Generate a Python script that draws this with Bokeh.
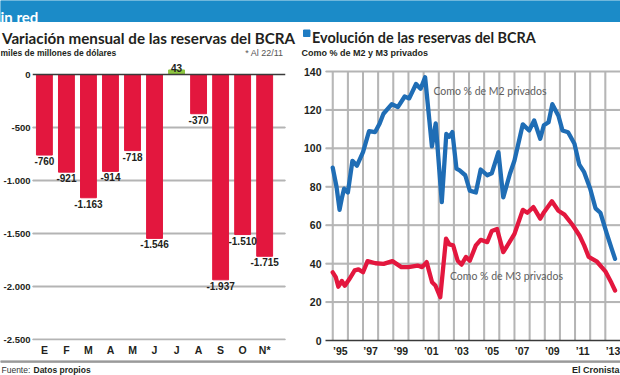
from bokeh.plotting import figure
from bokeh.layouts import column, row
from bokeh.models import Range1d, FixedTicker, ColumnDataSource, Span
from bokeh.core.properties import value
from bokeh.embed import file_html
from bokeh.resources import INLINE

# ---------------- data ----------------
months = ["E", "F", "M", "A", "M", "J", "J", "A", "S", "O", "N*"]
monthly_change = [-760, -921, -1163, -914, -718, -1546, 43, -370, -1937, -1510, -1715]
left_ticks = [0, -500, -1000, -1500, -2000, -2500]
left_tick_labels = ["0", "-500", "-1.000", "-1.500", "-2.000", "-2.500"]

m2_years = [1995.0, 1995.25, 1995.45, 1995.6, 1995.75, 1996.0, 1996.3, 1996.6, 1997.0, 1997.4,
            1997.8, 1998.1, 1998.35, 1998.9, 1999.3, 1999.75, 2000.05, 2000.5, 2000.8, 2001.1,
            2001.55, 2001.8, 2002.2, 2002.5, 2002.7, 2002.9, 2003.17, 2003.38, 2003.75, 2004.05,
            2004.45, 2004.77, 2005.2, 2005.5, 2005.94, 2006.26, 2006.7, 2007.0, 2007.55, 2007.97,
            2008.3, 2008.7, 2008.94, 2009.25, 2009.5, 2009.9, 2010.17, 2010.54, 2010.96, 2011.28,
            2011.6, 2012.0, 2012.35, 2012.67, 2013.1, 2013.42, 2013.64]
m2_pct = [90, 80, 68, 74, 79, 77, 93.5, 91, 98, 109,
          108.5, 113, 118, 123, 121.5, 127, 126, 133.5, 131, 137,
          101, 113, 72, 107.5, 106, 108.5, 89.4, 88.5, 86, 78,
          77, 89, 86, 87, 98, 74.5, 86.8, 93.7, 112.5, 109.3,
          114.5, 105, 112, 113.6, 123, 117, 109.3, 108.4, 102.4, 91.5,
          87.6, 79, 68.8, 66.5, 55.5, 47.7, 42.5]

m3_years = [1995.0, 1995.2, 1995.37, 1995.6, 1995.8, 1996.1, 1996.45, 1996.7, 1997.0, 1997.3,
            1997.82, 1998.36, 1998.94, 1999.53, 2000.0, 2000.6, 2000.9, 2001.2, 2001.56, 2001.78,
            2002.1, 2002.48, 2002.7, 2002.95, 2003.25, 2003.5, 2003.8, 2004.05, 2004.45, 2004.77,
            2005.2, 2005.5, 2005.85, 2006.26, 2006.6, 2007.0, 2007.55, 2007.85, 2008.25, 2008.7,
            2008.95, 2009.47, 2009.9, 2010.3, 2010.85, 2011.3, 2011.6, 2011.9, 2012.45, 2013.0,
            2013.4, 2013.64]
m3_pct = [35.5, 33, 28, 31, 28.5, 32, 36.5, 37, 35.5, 41.3,
          40.2, 39.9, 41.3, 38.2, 38.2, 39, 38.2, 40.8, 30.3, 28.6,
          22.5, 53, 50, 49.5, 41.5, 39.5, 43.5, 41.5, 49.5, 52.4,
          51.2, 57, 58, 46, 50.3, 55.5, 68, 66.5, 69.4, 63.4,
          66.8, 72.5, 67.5, 65.5, 60, 54.5, 49.5, 43.5, 41, 36,
          30, 26]

right_ticks = [0, 20, 40, 60, 80, 100, 120, 140]
grid_years = list(range(1995, 2014))
year_tick_pos = [1995.5, 1997.5, 1999.5, 2001.5, 2003.5, 2005.5, 2007.5, 2009.5, 2011.5, 2013.5]
year_labels = ["’95", "’97", "’99", "’01", "’03", "’05", "’07", "’09", "’11", "’13"]

# ---------------- style ----------------
RED = "#e3173e"
GREEN = "#8dc63f"
BLUE = "#1f6db5"
BANNER = "#1b8bc8"
SQUARE = "#1f7cc3"
DARK = "#231f20"
GRID = "#b4b4b4"
SANS = "Liberation Sans"
HUM = "Lato"


def blank(w, h, xr, yr):
    p = figure(width=w, height=h, x_range=xr, y_range=yr, output_backend="svg",
               toolbar_location=None, min_border=0,
               x_axis_location=None, y_axis_location=None)
    p.outline_line_color = None
    p.grid.visible = False
    p.background_fill_color = "white"
    p.border_fill_color = "white"
    return p


def style_axis(ax, size):
    ax.axis_line_color = None
    ax.major_tick_line_color = None
    ax.minor_tick_line_color = None
    ax.major_tick_in = 0
    ax.major_tick_out = 0
    ax.minor_tick_in = 0
    ax.minor_tick_out = 0
    ax.major_label_text_font = SANS
    ax.major_label_text_font_size = size
    ax.major_label_text_font_style = "bold"
    ax.major_label_text_color = DARK


def txt(p, x, y, s, size, font=SANS, style="normal", color=DARK, align="left"):
    p.text(x=[x], y=[y], text=[s], text_font=value(font), text_font_size=size,
           text_font_style=style, text_color=color, text_align=align, text_baseline="alphabetic")


# ---------------- header (banner, titles, subtitles) ----------------
HDR_H = 58
FTR_H = 15
hdr = blank(620, HDR_H, Range1d(0, 620), Range1d(HDR_H, 0))
hdr.quad(left=0, right=620, top=0, bottom=21, color=BANNER)
txt(hdr, 0, 16.5, "in red", "15px", HUM, "bold", "white")
txt(hdr, 1.5, 37, "Variación mensual de las reservas del BCRA", "15.2px", HUM, "bold")
txt(hdr, 0, 52.5, "miles de millones de dólares", "8.5px", SANS, "bold")
txt(hdr, 283, 52.5, "* Al 22/11", "9px", SANS, "normal", "#555555", "right")
hdr.quad(left=303, right=309.5, top=29.5, bottom=36, color=SQUARE)
txt(hdr, 311.5, 36.5, "Evolución de las reservas del BCRA", "14.4px", HUM, "bold")
txt(hdr, 301, 52.5, "Como % de M2 y M3 privados", "9px", SANS, "bold")

# ---------------- left chart ----------------
FIG_H = 375 - HDR_H - FTR_H
LB_LEFT, LB_RIGHT = 30, 15
FIRST, LAST = 42, 264                           # px centres of first / last bar
STEP = (LAST - FIRST) / (len(months) - 1)
idx = list(range(len(months)))
x_start = -(FIRST - LB_LEFT) / STEP
x_end = x_start + (300 - LB_LEFT - LB_RIGHT) / STEP
ZERO_PX, TOP_PX, BOT_PX = 74, HDR_H, 340
BOTTOM_BORDER = HDR_H + FIG_H - BOT_PX
LSCALE = (339 - ZERO_PX) / 2500                 # px per million
lp = figure(width=300, height=FIG_H, x_range=Range1d(x_start, x_end),
            y_range=Range1d(-(BOT_PX - ZERO_PX) / LSCALE, (ZERO_PX - TOP_PX) / LSCALE),
            output_backend="svg", toolbar_location=None)
lp.min_border_left = LB_LEFT
lp.min_border_right = LB_RIGHT
lp.min_border_top = 0
lp.min_border_bottom = BOTTOM_BORDER
lp.outline_line_color = None
lp.background_fill_color = "white"
lp.border_fill_color = "white"
lp.grid.visible = False

# horizontal guide lines at the tick values (1 px tall)
left_grid = [t for t in left_ticks if t != 0]
lp.hbar(y=left_grid, left=x_start, right=x_end, height=1 / LSCALE, color=GRID)

bars = ColumnDataSource(dict(x=idx, v=monthly_change,
                             c=[RED if v < 0 else GREEN for v in monthly_change]))
lp.vbar(x="x", top="v", bottom=0, width=16 / STEP, color="c", source=bars)
lp.add_layout(Span(location=0, dimension="width", line_color="#3a3a3a", line_width=1.5))

fmt = [f"{v:,}".replace(",", ".") for v in monthly_change]
neg = ColumnDataSource(dict(x=[i for i, v in zip(idx, monthly_change) if v < 0],
                            y=[v for v in monthly_change if v < 0],
                            t=[f for f, v in zip(fmt, monthly_change) if v < 0]))
pos = ColumnDataSource(dict(x=[i for i, v in zip(idx, monthly_change) if v >= 0],
                            y=[v for v in monthly_change if v >= 0],
                            t=[f for f, v in zip(fmt, monthly_change) if v >= 0]))
lp.text(x="x", y="y", text="t", source=neg, text_align="center", text_baseline="top", y_offset=2,
        text_font=value(SANS), text_font_size="10px", text_font_style="bold", text_color=DARK)
lp.text(x="x", y="y", text="t", source=pos, text_align="center", text_baseline="alphabetic", y_offset=-2,
        text_font=value(SANS), text_font_size="10px", text_font_style="bold", text_color=DARK)

ya = lp.yaxis[0]
ya.ticker = FixedTicker(ticks=left_ticks)
ya.major_label_overrides = {t: l for t, l in zip(left_ticks, left_tick_labels)}
ya.major_label_standoff = 2
style_axis(ya, "9.5px")

xa = lp.xaxis[0]
xa.ticker = FixedTicker(ticks=idx)
xa.major_label_overrides = {i: m for i, m in zip(idx, months)}
xa.major_label_standoff = 3
style_axis(xa, "10.5px")

# ---------------- right chart ----------------
RB_LEFT = 22
YPX = 15.3                                       # px per year
X1995 = 329.3 - 300                              # px of 1 Jan 1995 inside the figure
rx0 = 1995 - (X1995 - RB_LEFT) / YPX
rx1 = rx0 + (320 - RB_LEFT) / YPX
RSCALE = (340 - 71) / 140                        # px per percentage point
rp = figure(width=320, height=FIG_H, x_range=Range1d(rx0, rx1),
            y_range=Range1d(0, (BOT_PX - TOP_PX) / RSCALE),
            output_backend="svg", toolbar_location=None)
rp.min_border_left = RB_LEFT
rp.min_border_right = 0
rp.min_border_top = 0
rp.min_border_bottom = BOTTOM_BORDER
rp.outline_line_color = None
rp.background_fill_color = "white"
rp.border_fill_color = "white"
rp.grid.visible = False

# guide lines: horizontal at value ticks, vertical at each year boundary (1 px wide)
right_grid = [t for t in right_ticks if t != 0]
rp.hbar(y=right_grid, left=rx0, right=rx1, height=1 / RSCALE, color=GRID)
rp.vbar(x=grid_years, bottom=0, top=max(right_ticks), width=1 / YPX, color=GRID)

rp.line(m3_years, m3_pct, line_width=4.3, color=RED, line_join="round", line_cap="round")
rp.line(m2_years, m2_pct, line_width=4.3, color=BLUE, line_join="round", line_cap="round")

rp.text(x=[2001.65], y=[130], text=["Como % de M2 privados"], text_font=value(HUM), text_font_size="10.5px",
        text_color="#606060", text_baseline="middle")
rp.text(x=[2002.74], y=[33.8], text=["Como % de M3 privados"], text_font=value(HUM), text_font_size="10.5px",
        text_color="#606060", text_baseline="middle")

rya = rp.yaxis[0]
rya.ticker = FixedTicker(ticks=right_ticks)
rya.major_label_standoff = 4
style_axis(rya, "10.5px")

rxa = rp.xaxis[0]
rxa.ticker = FixedTicker(ticks=year_tick_pos)
rxa.major_label_overrides = {t: l for t, l in zip(year_tick_pos, year_labels)}
rxa.major_label_standoff = 4
style_axis(rxa, "10.5px")
rxa.axis_line_color = "#3a3a3a"
rxa.axis_line_width = 1.5

# ---------------- footer ----------------
ftr = blank(620, FTR_H, Range1d(0, 620), Range1d(FTR_H, 0))
ftr.quad(left=0, right=620, top=0, bottom=1.8, color="#9a9a9a")
txt(ftr, 1, 9.5, "Fuente:", "8.5px", SANS, "normal", "#333333")
txt(ftr, 33, 9.5, "Datos propios", "8.5px", SANS, "bold")
txt(ftr, 619, 9.5, "El Cronista", "9px", SANS, "bold", DARK, "right")

layout = column(hdr, row(lp, rp, spacing=0), ftr, spacing=0)
open("out.html", "w").write(file_html(layout, INLINE))
